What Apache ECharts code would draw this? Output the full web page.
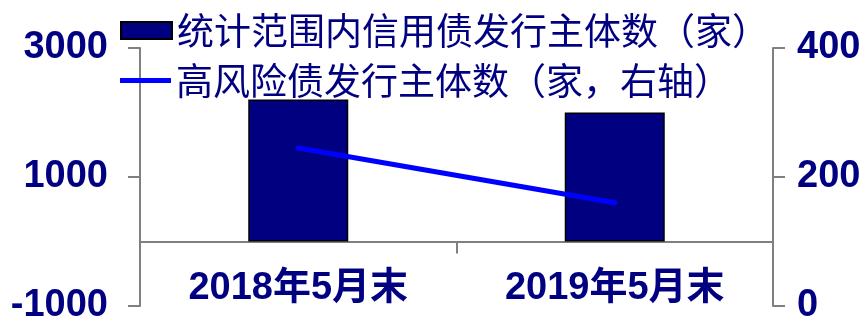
<!DOCTYPE html>
<html>
<head>
<meta charset="utf-8">
<script src="https://cdn.jsdelivr.net/npm/echarts@6/dist/echarts.min.js"></script>
<style>
  html, body { margin: 0; padding: 0; background: #fff; }
  #main { width: 867px; height: 321px; }
</style>
</head>
<body>
<div id="main"></div>
<script>
// 数据
var categories = ["2018年5月末", "2019年5月末"];
var issuerCount = [2200, 2000];      // 统计范围内信用债发行主体数（家）
var highRiskCount = [245, 160];      // 高风险债发行主体数（家，右轴）
var barName = "统计范围内信用债发行主体数（家）";
var lineName = "高风险债发行主体数（家，右轴）";

var navy = "#000080";
var axisGray = "#808080";
var numFont = "'Liberation Sans', Arial, 'Noto Sans CJK SC', sans-serif";
var cjkFont = "'Noto Sans CJK SC', sans-serif";

function plain(v) { return String(v); }

var myChart = echarts.init(document.getElementById("main"));
myChart.setOption({
  animation: false,
  grid: { left: 140, right: 94, top: 48, bottom: 15, containLabel: false, outerBoundsMode: "none" },
  legend: [
    {
      data: [{ name: barName, icon: "rect" }],
      left: 115,
      top: 7,
      itemWidth: 51,
      itemHeight: 17,
      itemGap: 6,
      textStyle: { color: navy, fontSize: 37, fontFamily: cjkFont }
    },
    {
      data: [{ name: lineName, icon: "rect" }],
      left: 115,
      top: 57,
      itemWidth: 51,
      itemHeight: 5,
      itemGap: 6,
      textStyle: { color: navy, fontSize: 37, fontFamily: cjkFont }
    }
  ],
  xAxis: {
    type: "category",
    data: categories,
    axisLine: { onZero: true, lineStyle: { color: axisGray, width: 2 } },
    axisTick: { show: true, length: 12, lineStyle: { color: axisGray, width: 2 } },
    // 标签留在网格底部，用负 margin 拉回零线下方
    axisLabel: { interval: 0, color: navy, fontSize: 38, fontWeight: "bold", fontFamily: numFont, margin: -36 }
  },
  yAxis: [
    {
      type: "value",
      min: -1000,
      max: 3000,
      interval: 2000,
      position: "left",
      splitLine: { show: false },
      axisLine: { show: true, lineStyle: { color: axisGray, width: 2 } },
      axisTick: { show: true, length: 12, lineStyle: { color: axisGray, width: 2 } },
      axisLabel: { color: navy, fontSize: 38, fontWeight: "bold", fontFamily: numFont, margin: 32, formatter: plain }
    },
    {
      type: "value",
      min: 0,
      max: 400,
      interval: 200,
      position: "right",
      splitLine: { show: false },
      axisLine: { show: true, lineStyle: { color: axisGray, width: 2 } },
      axisTick: { show: true, length: 12, lineStyle: { color: axisGray, width: 2 } },
      axisLabel: { color: navy, fontSize: 38, fontWeight: "bold", fontFamily: numFont, margin: 24, formatter: plain }
    }
  ],
  series: [
    {
      name: barName,
      type: "bar",
      data: issuerCount,
      barWidth: "31.6%",
      itemStyle: { color: navy, borderColor: "#000", borderWidth: 1.5 }
    },
    {
      name: lineName,
      type: "line",
      yAxisIndex: 1,
      data: highRiskCount,
      symbol: "none",
      lineStyle: { color: "#0000ff", width: 5, cap: "round" },
      itemStyle: { color: "#0000ff" }
    }
  ]
});
</script>
</body>
</html>
